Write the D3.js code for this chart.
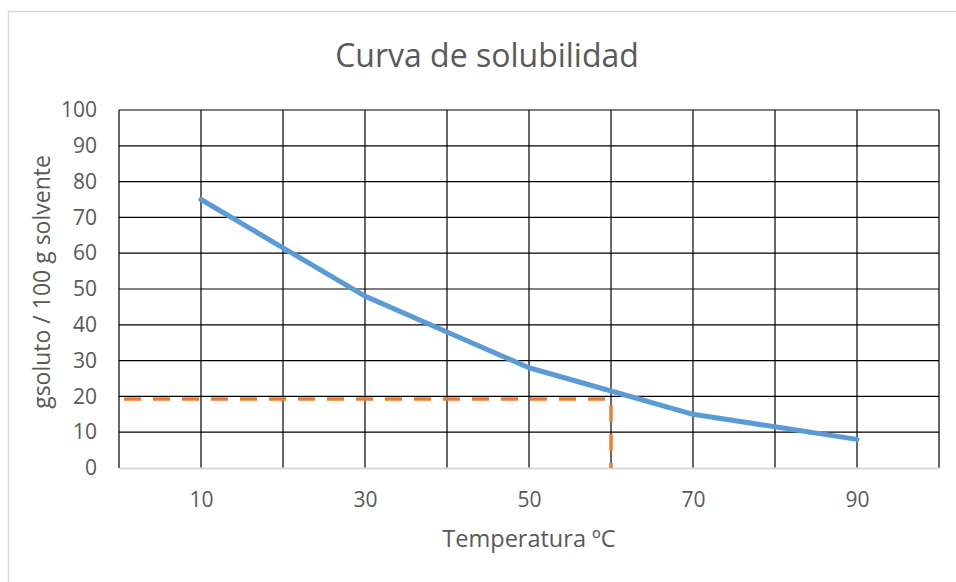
<!DOCTYPE html>
<html>
<head>
<meta charset="utf-8">
<script src="https://cdn.jsdelivr.net/npm/d3@7"></script>
<style>
  body { margin: 0; background: #fff; }
  text { font-family: 'Open Sans', sans-serif; fill: #595959; }
</style>
</head>
<body>
<script>
let w = 956;
let h = 582;

// data
let temps = [10, 20, 30, 40, 50, 60, 70, 80, 90];
let solubility = [75, 61.5, 48, 38, 28, 21.5, 15, 11.5, 8];
let guideX = [0, 60, 60];
let guideY = [19.3, 19.3, 0];
let xTicks = [10, 30, 50, 70, 90];
let yTicks = [0, 10, 20, 30, 40, 50, 60, 70, 80, 90, 100];
let gridX = [0, 10, 20, 30, 40, 50, 60, 70, 80, 90, 100];

let xScale = d3.scaleLinear().domain([0, 100]).range([119, 939]);
let yScale = d3.scaleLinear().domain([0, 100]).range([468, 110]);

let svg = d3.select('body')
  .append('svg')
  .attr('width', w)
  .attr('height', h);

// chart border (runs off the right and bottom)
svg.append('rect')
  .attr('x', 8.5)
  .attr('y', 11.5)
  .attr('width', 970)
  .attr('height', 600)
  .attr('fill', '#fff')
  .attr('stroke', '#d9d9d9')
  .attr('stroke-width', 1.5);

svg.append('text')
  .attr('x', 487)
  .attr('y', 67)
  .attr('text-anchor', 'middle')
  .attr('font-size', '32px')
  .text('Curva de solubilidad');

// grid
svg.append('g')
  .selectAll('line')
  .data(yTicks.filter((d) => { return d > 0; }))
  .enter()
  .append('line')
  .attr('x1', xScale(0))
  .attr('x2', xScale(100))
  .attr('y1', (d) => { return yScale(d); })
  .attr('y2', (d) => { return yScale(d); })
  .attr('stroke', '#000')
  .attr('stroke-width', 1.2);

svg.append('g')
  .selectAll('line')
  .data(gridX)
  .enter()
  .append('line')
  .attr('x1', (d) => { return xScale(d); })
  .attr('x2', (d) => { return xScale(d); })
  .attr('y1', yScale(0))
  .attr('y2', yScale(100))
  .attr('stroke', '#000')
  .attr('stroke-width', 1.2);

// axes
let xAxis = svg.append('g')
  .attr('transform', 'translate(0,' + yScale(0) + ')')
  .call(d3.axisBottom(xScale).tickValues(xTicks).tickSize(0).tickPadding(24));
xAxis.select('.domain').attr('stroke', '#d9d9d9').attr('stroke-width', 2);
xAxis.selectAll('text').attr('font-size', '21px').attr('font-family', null).attr('fill', '#595959');

let yAxis = svg.append('g')
  .attr('transform', 'translate(' + xScale(0) + ',0)')
  .call(d3.axisLeft(yScale).tickValues(yTicks).tickSize(0).tickPadding(22));
yAxis.select('.domain').remove();
yAxis.selectAll('text').attr('font-size', '21px').attr('font-family', null).attr('fill', '#595959');

// axis titles
svg.append('text')
  .attr('x', 529)
  .attr('y', 547)
  .attr('text-anchor', 'middle')
  .attr('font-size', '23.5px')
  .text('Temperatura ºC');

svg.append('text')
  .attr('transform', 'translate(50,282) rotate(-90)')
  .attr('text-anchor', 'middle')
  .attr('font-size', '23px')
  .text('gsoluto / 100 g solvente');

// guide lines
let guide = guideX.map((d, i) => { return [d, guideY[i]]; });
svg.append('path')
  .datum(guide)
  .attr('d', d3.line()
    .x((d) => { return xScale(d[0]); })
    .y((d) => { return yScale(d[1]); }))
  .attr('fill', 'none')
  .attr('stroke', '#ED7D31')
  .attr('stroke-width', 3.5)
  .attr('stroke-dasharray', '17,12')
  .attr('stroke-dashoffset', -5);

// solubility curve
let curve = temps.map((d, i) => { return [d, solubility[i]]; });
svg.append('path')
  .datum(curve)
  .attr('d', d3.line()
    .x((d) => { return xScale(d[0]); })
    .y((d) => { return yScale(d[1]); }))
  .attr('fill', 'none')
  .attr('stroke', '#5B9BD5')
  .attr('stroke-width', 5)
  .attr('stroke-linejoin', 'round')
  .attr('stroke-linecap', 'round');
</script>
</body>
</html>
